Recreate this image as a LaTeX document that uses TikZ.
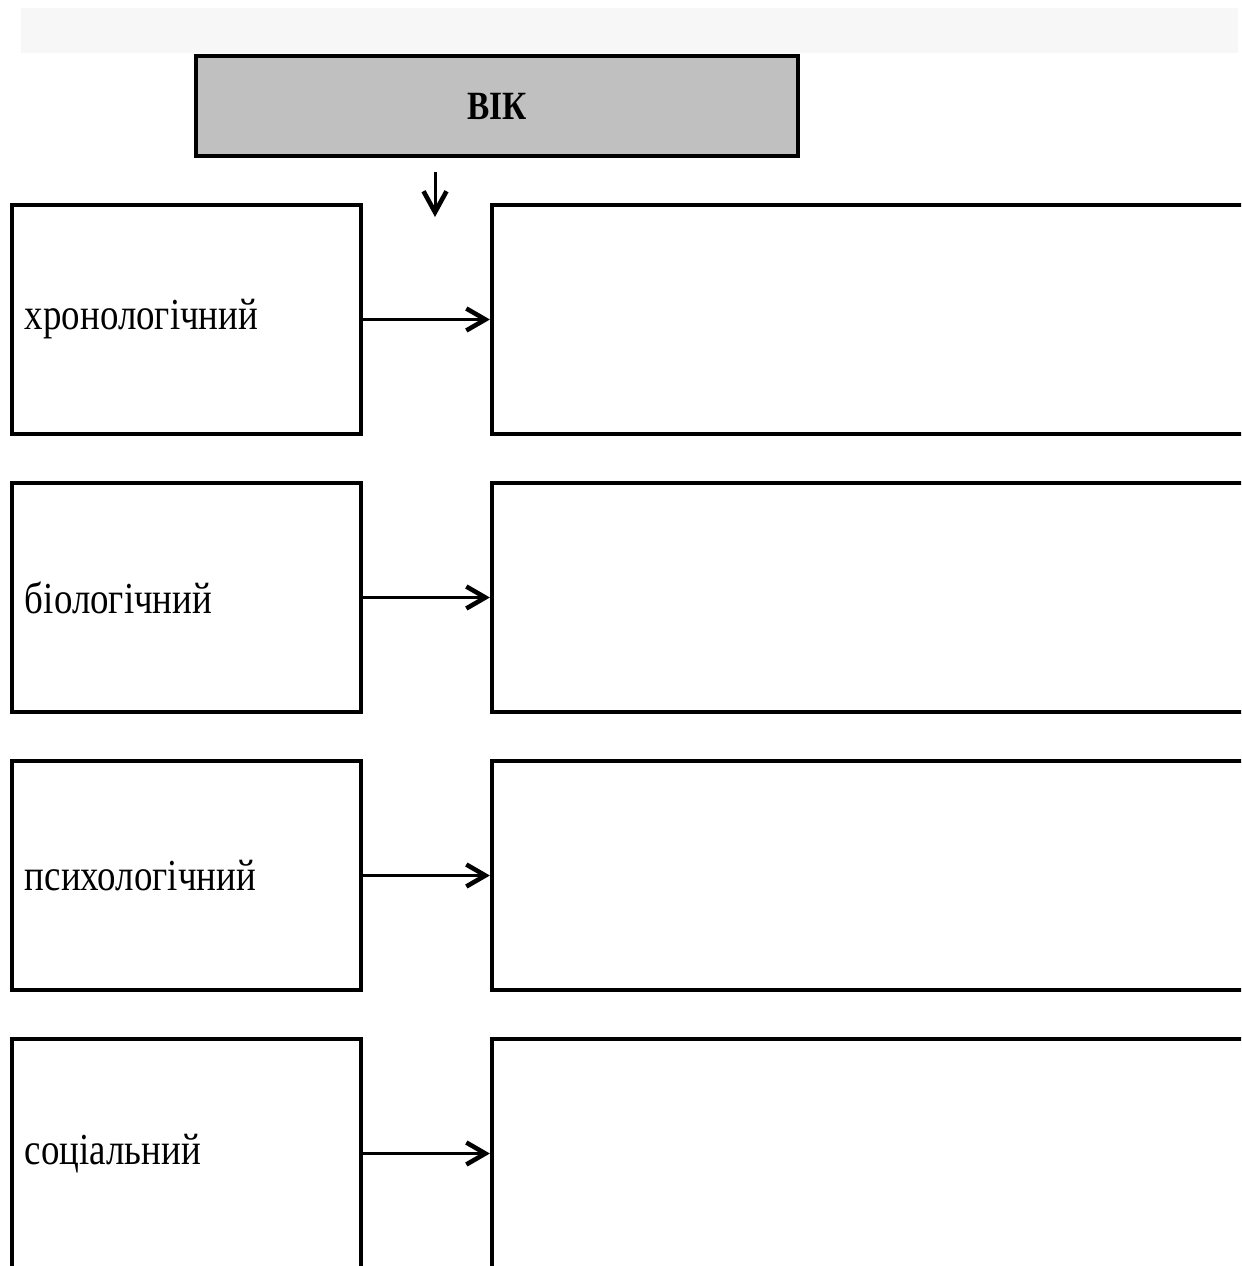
\documentclass[tikz,border=0pt]{standalone}
\usepackage{fontspec}
\setmainfont{Liberation Serif}
\usetikzlibrary{arrows.meta}
\definecolor{bandgray}{HTML}{F7F7F7}
\definecolor{vikgray}{HTML}{C0C0C0}
\newcommand\tallsc[1]{\scalebox{1}[1.2]{#1}}

\begin{document}
\begin{tikzpicture}[y=-1cm,>={Straight Barb[length=0.38cm,width=0.44cm,line width=2.6pt]},
  box/.style={draw,line width=2.4pt,rectangle,inner sep=0pt},
  leftbox/.style={box,minimum width=6.98cm,minimum height=4.58cm,text width=6.46cm,
    inner xsep=0.26cm,align=left,font=\fontsize{21}{25}\selectfont},
  rightbox/.style={box,minimum width=15.36cm,minimum height=4.58cm},
  link/.style={->,line width=1.9pt}]
% ---------- поле ----------
\useasboundingbox (0,0) rectangle (24.82,25.32);
\clip (0,0) rectangle (24.82,25.30);
\fill[bandgray] (0.42,0.16) rectangle (24.76,1.06);
% ---------- ВІК ----------
\node[box,fill=vikgray,minimum width=12.04cm,minimum height=2cm,
  font=\fontsize{19}{23}\selectfont\bfseries] (vik) at (9.94,2.12) {\tallsc{ВІК}};
\coordinate (downA) at (8.70,3.44);
\coordinate (downB) at (8.70,4.34);
\draw[-{Straight Barb[length=0.42cm,width=0.46cm,line width=2.6pt]},line width=1.7pt] (downA) -- (downB);
% ---------- види віку ----------
\foreach \nm/\txt [count=\i from 0] in {chron/хронологічний,bio/біологічний,psych/психологічний,soc/соціальний}{
  \node[leftbox] (\nm) at (3.73,{6.39+5.56*\i}) {\tallsc{\txt}};
  \node[rightbox] (\nm-r) at (17.52,{6.39+5.56*\i}) {};
  \draw[link] (\nm.east) -- (\nm-r.west);
}
\end{tikzpicture}
\end{document}
